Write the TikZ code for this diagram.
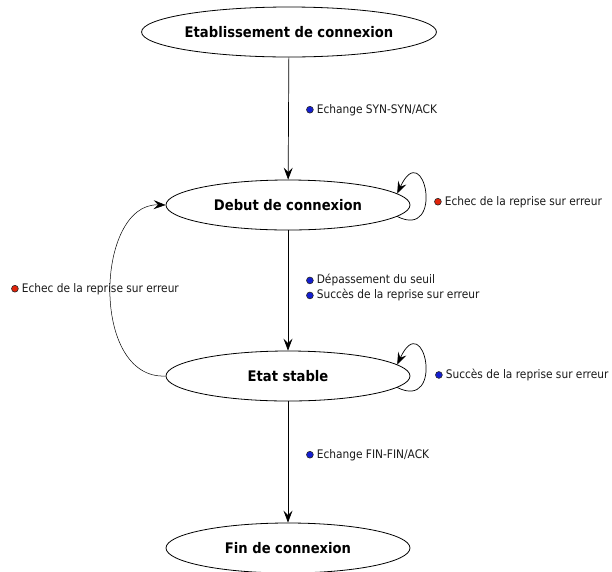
\documentclass[tikz,border=0pt]{standalone}
\usepackage{fontspec}
\setmainfont{DejaVu Sans Condensed}
\usetikzlibrary{shapes.geometric,arrows.meta}

\definecolor{okblue}{RGB}{20,30,210}
\definecolor{failred}{RGB}{225,35,10}

% small coloured bullet in front of a transition label
\newcommand\statusdot[1]{\tikz[baseline=-0.55ex]\filldraw[fill=#1,draw=black!85,line width=0.6pt] (0,0) circle (3.4pt);\hspace{3.2pt}}

\begin{document}
\begin{tikzpicture}[x=1pt,y=-1pt,
  state/.style={ellipse,draw,line width=0.8pt,minimum width=244pt,minimum height=50pt,
    inner sep=0pt,font=\fontsize{14.6}{17}\selectfont\bfseries},
  arr/.style={-{Stealth[length=12pt,width=9pt,inset=4.5pt]},line width=0.7pt},
  lbl/.style={anchor=west,inner sep=0pt,align=left,text=black!90,
    font=\fontsize{11.8}{15}\selectfont}]
\useasboundingbox (0,0) rectangle (612,571);
\clip (0,0) rectangle (612,571);

% states
\node[state,minimum width=247pt] (etab) at (289,32) {Etablissement de connexion};
\node[state] (debut) at (288,205) {Debut de connexion};
\node[state] (stable) at (288,376) {Etat stable};
\node[state] (fin) at (288,548) {Fin de connexion};

% main transitions
\draw[arr] (etab) -- (debut);
\draw[arr] (debut) -- (stable);
\draw[arr] (stable) -- (fin);

% fall back from the stable state
\draw[arr,line width=0.5pt] (stable.west) .. controls (90,380) and (95,203) .. (debut.west);

% self loops
\draw[arr] (debut.-6) .. controls +(48,24) and +(27,-58) .. (debut.6);
\draw[arr] (stable.-6) .. controls +(48,24) and +(27,-58) .. (stable.6);

% transition labels
\node[lbl] (synlbl) at (306,110) {\statusdot{okblue}Echange SYN-SYN/ACK};
\node[lbl] (debutlooplbl) at (434,202) {\statusdot{failred}Echec de la reprise sur erreur};
\node[lbl] (backlbl) at (11,289) {\statusdot{failred}Echec de la reprise sur erreur};
\node[lbl] (passlbl) at (306,288) {\statusdot{okblue}Dépassement du seuil\\\statusdot{okblue}Succès de la reprise sur erreur};
\node[lbl] (stablelooplbl) at (435,375) {\statusdot{okblue}Succès de la reprise sur erreur};
\node[lbl] (finlbl) at (306,455) {\statusdot{okblue}Echange FIN-FIN/ACK};
\end{tikzpicture}
\end{document}
